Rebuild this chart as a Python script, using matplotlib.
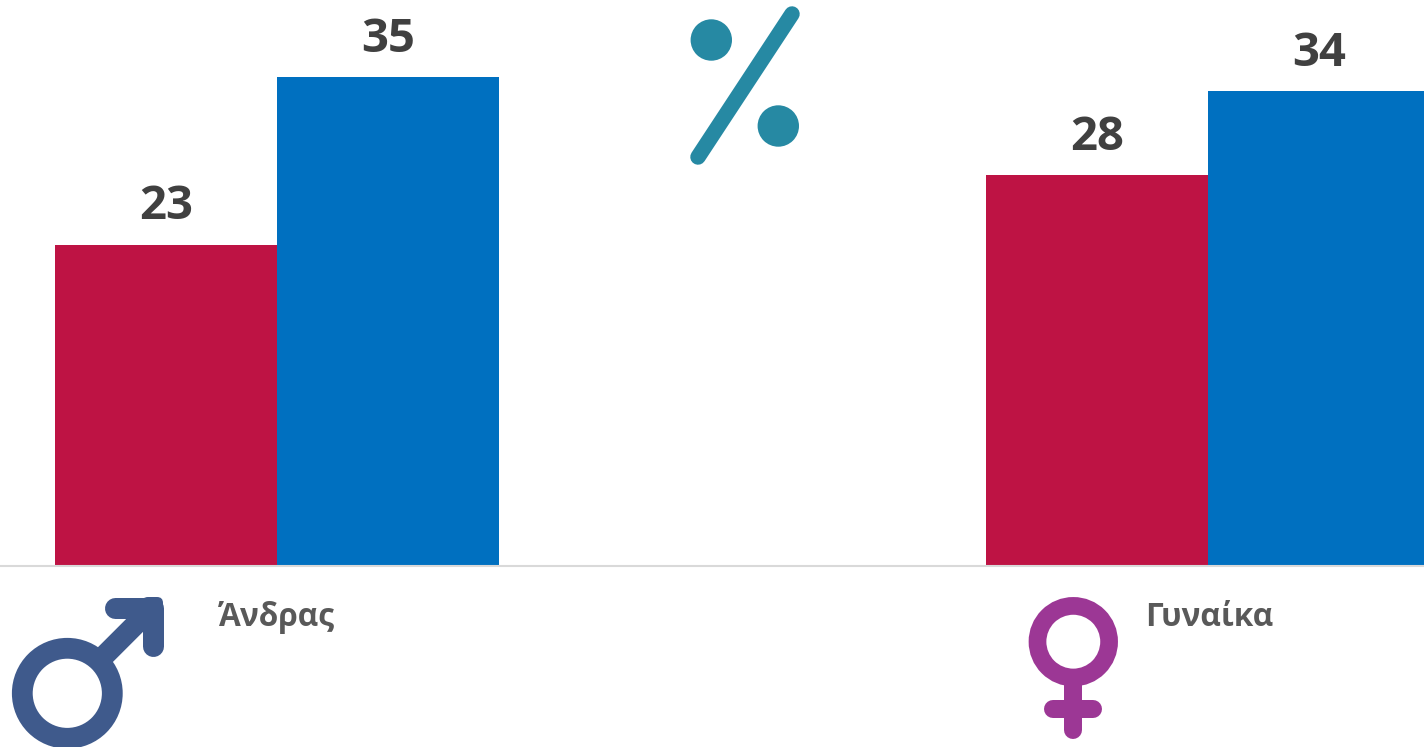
#!/usr/bin/env python3
import matplotlib
matplotlib.use('Agg')
import matplotlib.pyplot as plt
from matplotlib.patches import Circle, FancyBboxPatch
import numpy as np

categories = ['Άνδρας', 'Γυναίκα']
series_red = [23, 28]
series_blue = [35, 34]

W, H = 1424, 747
PX = 0.72  # one pixel in points at dpi 100

RED = '#BE1344'
BLUE = '#0070C0'
MALE = '#3F5A8C'
FEMALE = '#9C3795'
TEAL = '#2689A3'

plt.rcParams['font.family'] = ['Open Sans', 'DejaVu Sans']

fig = plt.figure(figsize=(W / 100, H / 100), dpi=100, facecolor='white')

# bars
base_y = 566
ax = fig.add_axes([0, (H - base_y) / H, 1, base_y / H])
spacing = 931
bar_w = 222 / spacing
ax.set_xlim(-277.3 / spacing, (W - 277.3) / spacing)
ax.set_ylim(0, base_y / 13.96)
x = np.arange(len(categories))
red_bars = ax.bar(x - bar_w / 2, series_red, bar_w, color=RED, linewidth=0)
blue_bars = ax.bar(x + bar_w / 2, series_blue, bar_w, color=BLUE, linewidth=0)
for bars in (red_bars, blue_bars):
    for b in bars:
        ax.annotate(f'{b.get_height():.0f}', (b.get_x() + b.get_width() / 2, b.get_height()),
                    xytext=(0, 25.5 * PX), textcoords='offset points', ha='center', va='baseline',
                    fontsize=34, fontweight='bold', color='#404040', annotation_clip=False)
for s in ['top', 'left', 'right']:
    ax.spines[s].set_visible(False)
ax.spines['bottom'].set_color('#D9D9D9')
ax.spines['bottom'].set_linewidth(1.5)
ax.set_xticks([])
ax.set_yticks([])
ax.patch.set_alpha(0)

# icons and labels, in pixel coordinates
ov = fig.add_axes([0, 0, 1, 1])
ov.set_xlim(0, W)
ov.set_ylim(H, 0)
ov.axis('off')
ov.patch.set_alpha(0)


def stroke(xs, ys, color, width):
    ov.plot(xs, ys, color=color, lw=width * PX, solid_capstyle='round', solid_joinstyle='round')


# percent sign
ov.add_patch(Circle((711.3, 40), 20.7, color=TEAL, lw=0))
ov.add_patch(Circle((778.3, 126), 20.7, color=TEAL, lw=0))
stroke([792, 698], [14, 157], TEAL, 15.5)

# male symbol, the arrow tip has a tighter corner than the stroke caps
ov.add_patch(Circle((67.3, 693.3), 45, fill=False, ec=MALE, lw=20.8 * PX))
stroke([100, 152.5], [660, 607.5], MALE, 21)
stroke([115, 152.5, 152.5], [607.5, 607.5, 646], MALE, 21)
ov.add_patch(FancyBboxPatch((148, 603), 9, 9, boxstyle='round,pad=6,rounding_size=6',
                            fc=MALE, ec='none'))

# female symbol
ov.add_patch(Circle((1073.3, 641.7), 35.8, fill=False, ec=FEMALE, lw=17.7 * PX))
stroke([1073, 1073], [680, 730], FEMALE, 18)
stroke([1053, 1093], [708.7, 708.7], FEMALE, 18)

for label, lx in zip(categories, [218.5, 1145]):
    ov.text(lx, 625.7, label, ha='left', va='baseline', fontsize=22.8,
            fontweight='bold', color='#595959')

fig.savefig('out.png', dpi=100)
